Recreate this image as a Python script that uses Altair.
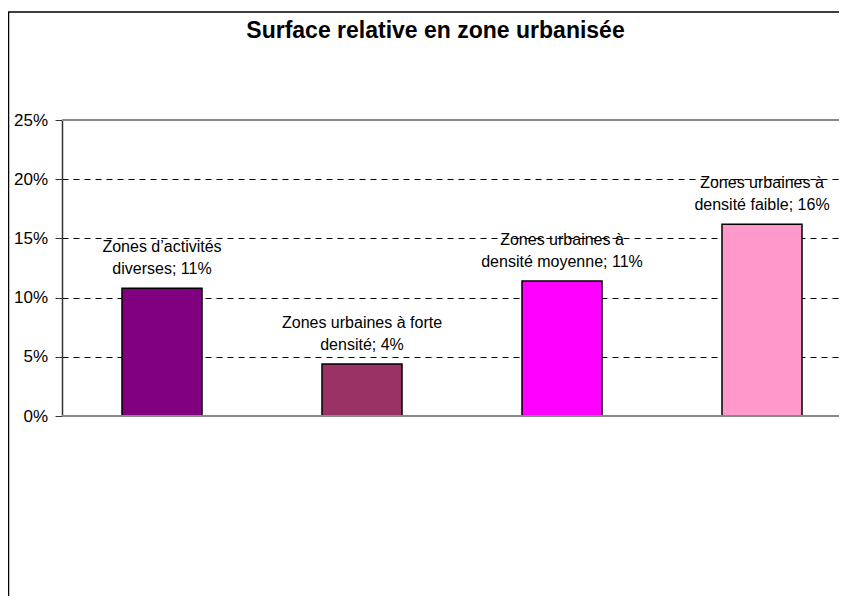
import altair as alt
import pandas as pd

TITLE = "Surface relative en zone  urbanisée"
LINE1 = ["Zones d’activités", "Zones urbaines à forte", "Zones urbaines à", "Zones urbaines à"]
LINE2 = ["diverses", "densité", "densité moyenne", "densité faible"]
VALUES = [0.108, 0.044, 0.114, 0.162]
COLORS = ["#800080", "#993366", "#FF00FF", "#FF99CC"]
Y_TICKS = [0, 0.05, 0.10, 0.15, 0.20, 0.25]
BORDER_LEVELS = [0, 0.25]

FONT = "Liberation Sans"

cats = [a + " " + b for a, b in zip(LINE1, LINE2)]
labels = [f"{a}\n{b}; {round(v * 100)}%" for a, b, v in zip(LINE1, LINE2, VALUES)]
df = pd.DataFrame({"cat": cats, "value": VALUES, "label": labels})
one = alt.Data(values=[{"k": 0}])

xenc = alt.X("cat:N", sort=cats, axis=None,
             scale=alt.Scale(range=[0, 800], paddingInner=0.6, paddingOuter=0.3))
yscale = alt.Scale(domain=[0, 0.25], nice=False)

bars = alt.Chart(df).mark_bar(stroke="black", strokeWidth=1.5).encode(
    x=xenc,
    y=alt.Y("value:Q", scale=yscale, title=None,
            axis=alt.Axis(values=Y_TICKS, format="%", grid=True, gridDash=[6, 5],
                          gridColor="black", gridWidth=1, tickSize=7, tickColor="#333333",
                          tickWidth=1, labelFontSize=17, labelFont=FONT, labelColor="black",
                          labelPadding=7.5, domainColor="#333333", domainWidth=1.5)),
    color=alt.Color("cat:N", scale=alt.Scale(domain=cats, range=COLORS), legend=None),
)

text = alt.Chart(df).mark_text(baseline="bottom", dy=-33, fontSize=16, lineHeight=22,
                               lineBreak="\n", font=FONT, color="black").encode(
    x=xenc, y=alt.Y("value:Q", scale=yscale), text="label:N")

borders = alt.Chart(pd.DataFrame({"lvl": BORDER_LEVELS})).mark_rule(
    color="#8a8a8a", strokeWidth=2).encode(y=alt.Y("lvl:Q", scale=yscale))

frame = alt.Chart(one).mark_rect(fillOpacity=0, stroke="black", strokeWidth=1.5,
                                 clip=False).encode(
    x=alt.value(-53.5), x2=alt.value(900), y=alt.value(-108), y2=alt.value(700))

title = alt.Chart(one).mark_text(text=TITLE, fontSize=23, fontWeight="bold", font=FONT,
                                 baseline="middle", align="center", color="black").encode(
    x=alt.value(373.5), y=alt.value(-89))

chart = alt.layer(frame, title, bars, borders, text).properties(
    width=777, height=296,
    autosize=alt.AutoSizeParams(type="none"),
    padding={"left": 54, "top": 112, "right": 0, "bottom": 180},
).configure_view(strokeWidth=0).configure(font=FONT)

chart.save("out.html", embed_options={"renderer": "svg", "actions": False})
